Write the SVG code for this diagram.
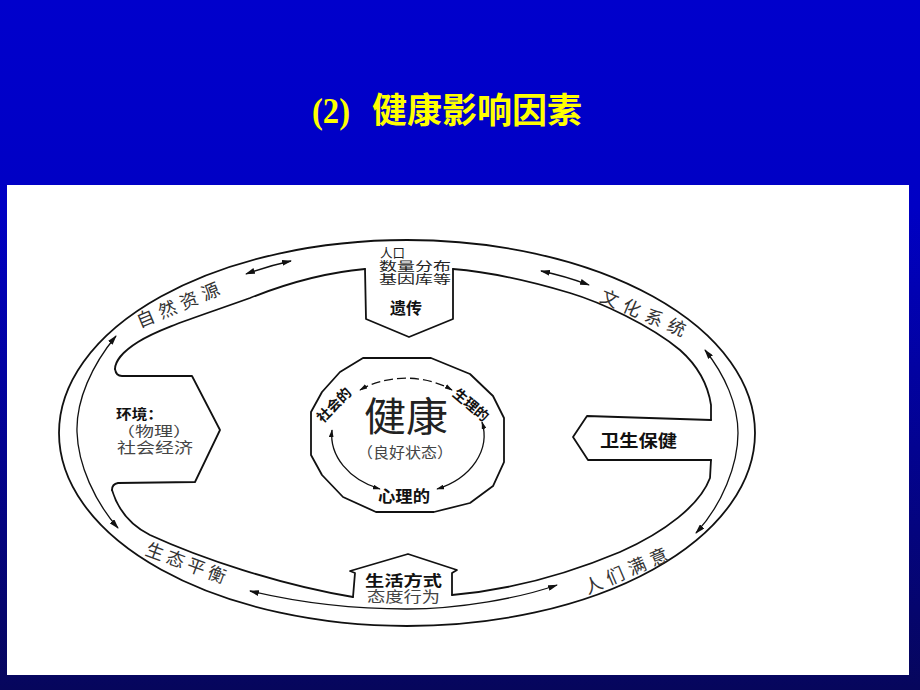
<svg xmlns="http://www.w3.org/2000/svg" width="920" height="690" viewBox="0 0 920 690">
<defs>
<linearGradient id="bg" x1="0" y1="0" x2="0" y2="1">
<stop offset="0" stop-color="#0000CC"/>
<stop offset="0.3" stop-color="#0000C4"/>
<stop offset="1" stop-color="#06065C"/>
</linearGradient>
<marker id="ah" viewBox="0 0 10 6" refX="9" refY="3" markerWidth="10" markerHeight="6" markerUnits="userSpaceOnUse" orient="auto-start-reverse"><path d="M0,0 L10,3 L0,6 z" fill="#111"/></marker>
<marker id="ahs" viewBox="0 0 10 6" refX="9" refY="3" markerWidth="8" markerHeight="5" markerUnits="userSpaceOnUse" orient="auto-start-reverse"><path d="M0,0 L10,3 L0,6 z" fill="#111"/></marker>
</defs>
<style>
.ln{fill:none;stroke:#111;stroke-width:1.8;stroke-linejoin:round;stroke-linecap:round}
.arw{fill:none;stroke:#111;stroke-width:1.3;marker-start:url(#ah);marker-end:url(#ah)}
.cyc{fill:none;stroke:#111;stroke-width:1.3;marker-start:url(#ahs);marker-end:url(#ahs)}
.cjk{font-family:"Noto Sans CJK SC","Noto Sans",sans-serif}
.band{font-size:18px;fill:#333}
.b{font-weight:bold;fill:#111}
.g{fill:#444}
</style>
<rect x="0" y="0" width="920" height="690" fill="url(#bg)"/>
<rect x="7" y="185" width="902" height="490" fill="#FFFFFF"/>
<g id="title">
<text x="312" y="123" font-family="Liberation Serif" font-weight="bold" font-size="36" fill="#FFFF00" textLength="38" lengthAdjust="spacingAndGlyphs">(2)</text>
<text x="372" y="123" class="cjk" font-weight="bold" font-size="35" fill="#FFFF00">健康影响因素</text>
</g>
<g id="ring">
<ellipse cx="407" cy="433" rx="348" ry="193" class="ln" stroke-width="2.2"/>
<path class="ln" d="M365,269 C320,273 280,286 250,298 C200,316 160,328 138,342 C122,352 115,362 115,369"/>
<path class="ln" d="M112,490 C118,510 130,525 150,535 C200,558 280,585 353,597"/>
<path class="ln" d="M452,595 C510,590 570,573 620,552 C665,532 700,505 710,478 L711,460"/>
<path class="ln" d="M711,420 L711,405 C708,385 698,366 680,350 C650,325 600,302 570,293 C530,281 490,272 453,269"/>
<text class="cjk band" transform="translate(178,305) rotate(-22.6)" text-anchor="middle" dy="0.36em" textLength="88" lengthAdjust="spacing">自然资源</text>
<text class="cjk band" transform="translate(643,313) rotate(23.4)" text-anchor="middle" dy="0.36em" textLength="91" lengthAdjust="spacing">文化系统</text>
<text class="cjk band" transform="translate(186,563) rotate(20.4)" text-anchor="middle" dy="0.36em" textLength="84" lengthAdjust="spacing">生态平衡</text>
<text class="cjk band" transform="translate(626,571) rotate(-23.3)" text-anchor="middle" dy="0.36em" textLength="89" lengthAdjust="spacing">人们满意</text>
</g>
<g id="connectors">
<path class="arw" d="M246,274 Q268,266 291,261"/>
<path class="arw" d="M541,271 Q565,276 589,285"/>
<path class="arw" d="M116,336 C92,365 76,400 77,432 C78,465 95,502 118,528"/>
<path class="arw" d="M705,350 C725,375 738,405 738,433 C738,465 722,505 696,533"/>
<path class="arw" d="M250,591 C300,603 355,609 407,609 C460,609 520,598 557,585"/>
</g>
<g id="heredity">
<path class="ln" d="M365,269 L366,319 L409,337 L453,319 L453,269"/>
<text class="cjk" font-size="12.5" fill="#222"><tspan x="380" y="258">人口</tspan><tspan x="379" y="271" textLength="72" lengthAdjust="spacingAndGlyphs">数量分布</tspan><tspan x="379" y="284" textLength="72" lengthAdjust="spacingAndGlyphs">基因库等</tspan></text>
<text class="cjk b" x="406" y="314" font-size="16" text-anchor="middle">遗传</text>
</g>
<g id="environment">
<path class="ln" d="M115,369 Q116,376 122,376 L192,376 L220,430 L195,482 L118,483 Q112,484 112,490"/>
<text class="cjk" font-size="14"><tspan class="b" x="116" y="419" textLength="47" lengthAdjust="spacingAndGlyphs">环境：</tspan><tspan class="g" x="116" y="436" textLength="76" lengthAdjust="spacingAndGlyphs">（物理）</tspan><tspan class="g" x="117" y="453" font-size="15" textLength="76" lengthAdjust="spacingAndGlyphs">社会经济</tspan></text>
</g>
<g id="medical-care">
<path class="ln" d="M711,460 L588,460 L573,437 L587,416 L711,420"/>
<text class="cjk b" x="600" y="447" font-size="17" textLength="77" lengthAdjust="spacingAndGlyphs">卫生保健</text>
</g>
<g id="lifestyle">
<path class="ln" d="M353,597 L355,573 L350,571 L408,554 L457,570 L452,573 L452,595"/>
<text class="cjk" font-size="15"><tspan class="b" x="365" y="586" textLength="77" lengthAdjust="spacingAndGlyphs">生活方式</tspan><tspan class="g" x="367" y="602" textLength="73" lengthAdjust="spacingAndGlyphs">态度行为</tspan></text>
</g>
<g id="health">
<polygon class="ln" points="363,358 431,358 470,374 493,396 504,418 504,462 493,486 470,503 434,512 376,512 343,497 322,475 311,455 311,412 322,392 340,372"/>
<path class="cyc" d="M360,390 A76,58 0 0 1 452,390" stroke-dasharray="9 4"/>
<path class="cyc" d="M482,422 A76,58 0 0 1 437,489"/>
<path class="cyc" d="M332,430 A76,58 0 0 0 380,489"/>
<text class="cjk" x="406" y="431" font-size="40" fill="#222" text-anchor="middle" textLength="84" lengthAdjust="spacingAndGlyphs">健康</text>
<text class="cjk g" x="405" y="458" font-size="15" text-anchor="middle" textLength="96" lengthAdjust="spacingAndGlyphs">（良好状态）</text>
<text class="cjk b" transform="translate(334,405) rotate(-45)" font-size="14" text-anchor="middle" dy="0.36em">社会的</text>
<text class="cjk b" transform="translate(471,405) rotate(40)" font-size="14" text-anchor="middle" dy="0.36em">生理的</text>
<text class="cjk b" x="404" y="502" font-size="16" text-anchor="middle" textLength="52" lengthAdjust="spacingAndGlyphs">心理的</text>
</g>
</svg>
